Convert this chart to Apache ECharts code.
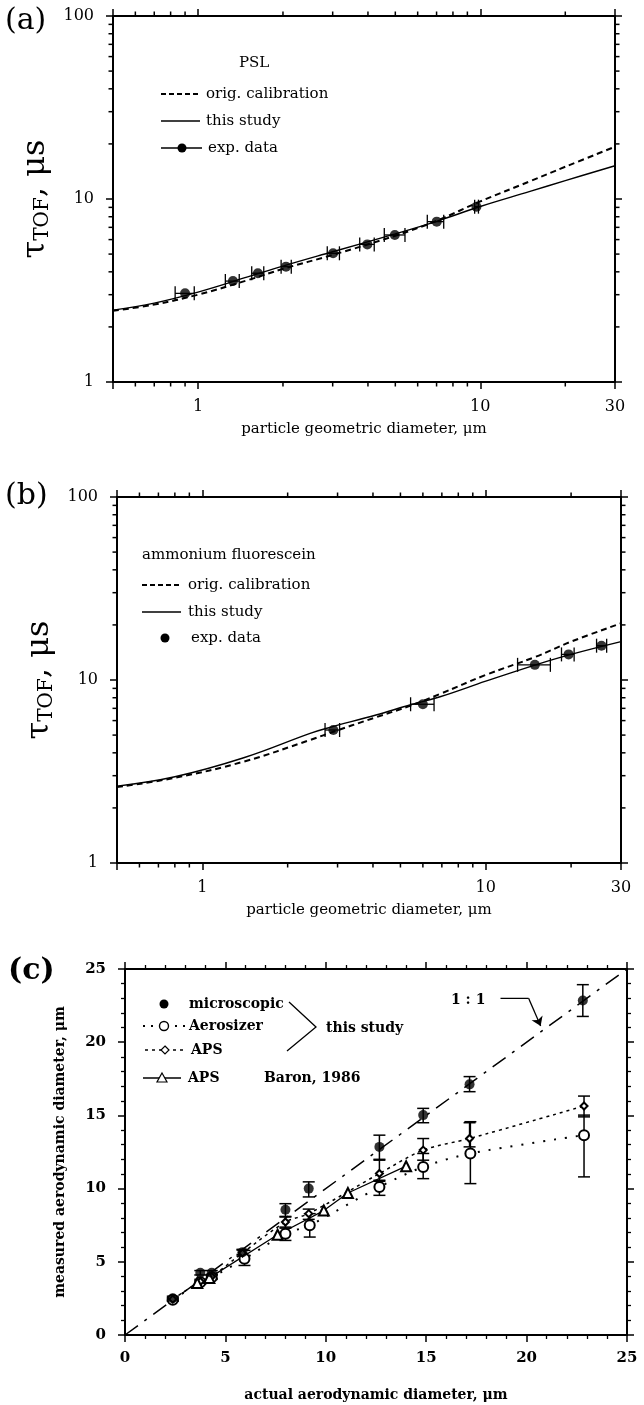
<!DOCTYPE html>
<html>
<head>
<meta charset="utf-8">
<script src="https://cdn.jsdelivr.net/npm/echarts@6/dist/echarts.min.js"></script>
<style>
html, body { margin: 0; padding: 0; background: #fff; }
#chart { width: 644px; height: 1405px; }
</style>
</head>
<body>
<div id="chart"></div>
<script>
// (a) PSL
const pslX = [0.9, 1.33, 1.63, 2.05, 3.01, 3.98, 4.98, 7.01, 9.69];
const pslY = [3.05, 3.56, 3.93, 4.27, 5.05, 5.65, 6.36, 7.52, 9.08];
const pslXLow = [0.83, 1.25, 1.55, 1.97, 2.87, 3.74, 4.57, 6.49, 9.55];
const pslXHigh = [0.97, 1.40, 1.71, 2.14, 3.17, 4.21, 5.41, 7.42, 9.85];
const curveXA = [0.5, 0.7, 1, 1.5, 2, 3, 5, 7, 10, 15, 20, 30];
const origA = [2.45, 2.65, 3.0, 3.6, 4.15, 4.95, 6.3, 7.6, 9.7, 12.5, 15.0, 19.3];
const studyA = [2.47, 2.7, 3.1, 3.75, 4.3, 5.15, 6.45, 7.55, 9.1, 11.0, 12.6, 15.2];

// (b) ammonium fluorescein
const afX = [2.9, 6.0, 14.9, 19.6, 25.6];
const afY = [5.33, 7.37, 12.1, 13.8, 15.4];
const afXLow = [2.71, 5.43, 12.95, 18.5, 24.6];
const afXHigh = [3.05, 6.57, 16.9, 20.5, 26.7];
const curveXB = [0.5, 0.8, 1.4, 2.4, 2.75, 4.1, 5.4, 6.9, 10, 15, 20, 30];
const origB = [2.6, 2.92, 3.58, 4.7, 5.07, 6.26, 7.22, 8.39, 10.66, 13.4, 16.2, 20.4];
const studyB = [2.63, 2.96, 3.76, 5.11, 5.45, 6.44, 7.3, 8.1, 9.85, 12.1, 13.8, 16.2];

// (c) aerodynamic diameter
const micX = [2.38, 3.75, 4.32, 5.85, 7.99, 9.15, 12.67, 14.85, 17.16, 22.8];
const micY = [2.51, 4.25, 4.25, 5.66, 8.56, 10.0, 12.85, 15.02, 17.12, 22.85];
const micLow = [2.4, 4.1, 4.1, 5.5, 8.06, 9.43, 11.94, 14.5, 16.62, 21.76];
const micHigh = [2.65, 4.4, 4.4, 5.85, 8.97, 10.46, 13.65, 15.48, 17.65, 23.93];
const aeroX = [2.38, 3.75, 4.32, 5.95, 7.99, 9.2, 12.67, 14.85, 17.2, 22.86];
const aeroY = [2.4, 3.6, 3.95, 5.2, 6.92, 7.49, 10.11, 11.48, 12.4, 13.65];
const aeroLow = [2.3, 3.5, 3.8, 4.75, 6.46, 6.69, 9.54, 10.68, 10.34, 10.8];
const aeroHigh = [2.5, 3.7, 4.1, 5.78, 7.37, 8.29, 10.57, 12.4, 14.57, 15.02];
const apsX = [2.38, 3.75, 4.32, 5.85, 7.99, 9.15, 12.67, 14.85, 17.16, 22.86];
const apsY = [2.45, 3.65, 4.0, 5.6, 7.72, 8.29, 11.03, 12.63, 13.42, 15.64];
const apsLow = [2.35, 3.5, 3.85, 5.4, 7.3, 7.9, 10.5, 11.94, 12.85, 14.9];
const apsHigh = [2.55, 3.8, 4.15, 5.8, 8.1, 8.6, 12.0, 13.42, 14.5, 16.32];
const baronX = [3.6, 4.2, 7.6, 9.9, 11.1, 14.0];
const baronY = [3.55, 3.9, 6.85, 8.5, 9.7, 11.53];
const oneX = [0, 25];
const oneY = [0, 25];
const arrowX = [18.7, 20.1, 20.7];
const arrowY = [23.0, 23.0, 21.1];

const logMinorX = [0.6, 0.7, 0.8, 0.9, 2, 3, 4, 5, 6, 7, 8, 9, 20];
const logMinorY = [2, 3, 4, 5, 6, 7, 8, 9, 20, 30, 40, 50, 60, 70, 80, 90];
const xLogLabels = [1, 10, 30];
const yLogLabels = [1, 10, 100];

const serif = 'DejaVu Serif';
const zip = (xs, ys) => xs.map((x, i) => [x, ys[i]]);

const baseAxis = (extra) => Object.assign({
  axisLine: { show: true, onZero: false, lineStyle: { color: '#000', width: 2 } },
  axisTick: { show: true, inside: false, length: 7, lineStyle: { color: '#000', width: 1.5 } },
  splitLine: { show: false },
}, extra);

const pick = (list) => (v) => {
  const r = Math.round(v * 100) / 100;
  return list.includes(r) ? String(r) : '';
};

const logX = (g, pos, name) => baseAxis({
  type: 'log', gridIndex: g, position: pos, min: 0.5, max: 30,
  axisLabel: pos === 'bottom'
    ? { margin: 17, fontFamily: serif, fontSize: 16, color: '#000', formatter: pick(xLogLabels) }
    : { show: false },
  name: pos === 'bottom' ? name : '',
  nameLocation: 'middle',
  nameGap: 40,
  nameTextStyle: { fontFamily: serif, fontSize: 15, color: '#000' },
});

const logY = (g, pos) => baseAxis({
  type: 'log', gridIndex: g, position: pos, min: 1, max: 100,
  axisLabel: pos === 'left'
    ? { margin: 19, fontFamily: serif, fontSize: 16, color: '#000', formatter: pick(yLogLabels) }
    : { show: false },
  name: pos === 'left' ? '{t|τ}{s|TOF}{t|, μs}' : '',
  nameLocation: 'middle',
  nameRotate: 90,
  nameGap: 50,
  nameTextStyle: {
    color: '#000',
    rich: {
      t: { fontFamily: serif, fontSize: 32, color: '#000' },
      s: { fontFamily: serif, fontSize: 20, color: '#000', padding: [14, 0, 0, 0] },
    },
  },
});

const linX = (g, pos) => baseAxis({
  type: 'value', gridIndex: g, position: pos, min: 0, max: 25, interval: 5,
  minorTick: { show: true, splitNumber: 5, length: 4, lineStyle: { color: '#000', width: 1.3 } },
  axisLabel: pos === 'bottom'
    ? { margin: 16, fontFamily: serif, fontWeight: 'bold', fontSize: 15, color: '#000' }
    : { show: false },
  name: pos === 'bottom' ? 'actual aerodynamic diameter, μm' : '',
  nameLocation: 'middle',
  nameGap: 53,
  nameTextStyle: { fontFamily: serif, fontWeight: 'bold', fontSize: 14, color: '#000' },
});

const linY = (g, pos) => baseAxis({
  type: 'value', gridIndex: g, position: pos, min: 0, max: 25, interval: 5,
  minorTick: { show: true, splitNumber: 5, length: 4, lineStyle: { color: '#000', width: 1.3 } },
  axisLabel: pos === 'left'
    ? { margin: 19, fontFamily: serif, fontWeight: 'bold', fontSize: 15, color: '#000' }
    : { show: false },
  name: pos === 'left' ? 'measured aerodynamic diameter, μm' : '',
  nameLocation: 'middle',
  nameRotate: 90,
  nameGap: 58,
  nameTextStyle: { fontFamily: serif, fontWeight: 'bold', fontSize: 14, color: '#000' },
});

// minor log ticks on all four sides
const minorTicks = (g) => ({
  type: 'custom', xAxisIndex: 2 * g, yAxisIndex: 2 * g, silent: true, clip: false, z: 10,
  encode: { x: 0, y: 1 },
  data: logMinorX.map((v) => [v, 10, 0]).concat(logMinorY.map((v) => [1, v, 1])),
  renderItem(params, api) {
    const cs = params.coordSys;
    const p = api.coord([api.value(0), api.value(1)]);
    const st = { stroke: '#000', lineWidth: 1.5 };
    const L = 4.5;
    if (api.value(2) === 0) {
      const b = cs.y + cs.height;
      return { type: 'group', children: [
        { type: 'line', shape: { x1: p[0], y1: b, x2: p[0], y2: b + L }, style: st },
        { type: 'line', shape: { x1: p[0], y1: cs.y, x2: p[0], y2: cs.y - L }, style: st },
      ] };
    }
    const r = cs.x + cs.width;
    return { type: 'group', children: [
      { type: 'line', shape: { x1: cs.x, y1: p[1], x2: cs.x - L, y2: p[1] }, style: st },
      { type: 'line', shape: { x1: r, y1: p[1], x2: r + L, y2: p[1] }, style: st },
    ] };
  },
});

const xErrBars = (g, xs, ys, lo, hi) => ({
  type: 'custom', xAxisIndex: 2 * g, yAxisIndex: 2 * g, silent: true, z: 6,
  encode: { x: [0, 2, 3], y: 1 },
  data: xs.map((x, i) => [x, ys[i], lo[i], hi[i]]),
  renderItem(params, api) {
    const a = api.coord([api.value(2), api.value(1)]);
    const b = api.coord([api.value(3), api.value(1)]);
    const h = 7;
    const st = { stroke: '#000', lineWidth: 1.3 };
    return { type: 'group', children: [
      { type: 'line', shape: { x1: a[0], y1: a[1], x2: b[0], y2: b[1] }, style: st },
      { type: 'line', shape: { x1: a[0], y1: a[1] - h, x2: a[0], y2: a[1] + h }, style: st },
      { type: 'line', shape: { x1: b[0], y1: b[1] - h, x2: b[0], y2: b[1] + h }, style: st },
    ] };
  },
});

const yErrBars = (g, xs, lo, hi) => ({
  type: 'custom', xAxisIndex: 2 * g, yAxisIndex: 2 * g, silent: true, z: 6,
  encode: { x: 0, y: [1, 2] },
  data: xs.map((x, i) => [x, lo[i], hi[i]]),
  renderItem(params, api) {
    const a = api.coord([api.value(0), api.value(1)]);
    const b = api.coord([api.value(0), api.value(2)]);
    const w = 6;
    const st = { stroke: '#000', lineWidth: 1.5 };
    return { type: 'group', children: [
      { type: 'line', shape: { x1: a[0], y1: a[1], x2: b[0], y2: b[1] }, style: st },
      { type: 'line', shape: { x1: a[0] - w, y1: a[1], x2: a[0] + w, y2: a[1] }, style: st },
      { type: 'line', shape: { x1: b[0] - w, y1: b[1], x2: b[0] + w, y2: b[1] }, style: st },
    ] };
  },
});

const curve = (g, xs, ys, dashed) => ({
  type: 'line', xAxisIndex: 2 * g, yAxisIndex: 2 * g, data: zip(xs, ys),
  showSymbol: false, smooth: 0.4, silent: true, z: 3,
  lineStyle: { color: '#000', width: dashed ? 2 : 1.4, type: dashed ? [6, 4] : 'solid' },
});

const dots = (g, xs, ys) => ({
  type: 'scatter', xAxisIndex: 2 * g, yAxisIndex: 2 * g, data: zip(xs, ys),
  symbol: 'circle', symbolSize: 10, itemStyle: { color: '#000' }, z: 8,
});

const txt = (x, y, text, font) => ({
  type: 'text', x, y, z: 20,
  style: { text, font, fill: '#000', textAlign: 'left', textVerticalAlign: 'middle' },
});
const seg = (x1, y1, x2, y2, dash, w) => ({
  type: 'line', z: 20,
  shape: { x1, y1, x2, y2 },
  style: { stroke: '#000', lineWidth: w || 1.5, lineDash: dash || null },
});

const fA = '15px "DejaVu Serif"';
const fC = 'bold 14px "DejaVu Serif"';

const chart = echarts.init(document.getElementById('chart'));
chart.setOption({
  animation: false,
  backgroundColor: '#fff',
  grid: [
    { left: 113, top: 16, width: 502, height: 366 },
    { left: 117, top: 497, width: 504, height: 366 },
    { left: 125, top: 969, width: 502, height: 366 },
  ],
  xAxis: [
    logX(0, 'bottom', 'particle geometric diameter, μm'), logX(0, 'top'),
    logX(1, 'bottom', 'particle geometric diameter, μm'), logX(1, 'top'),
    linX(2, 'bottom'), linX(2, 'top'),
  ],
  yAxis: [
    logY(0, 'left'), logY(0, 'right'),
    logY(1, 'left'), logY(1, 'right'),
    linY(2, 'left'), linY(2, 'right'),
  ],
  series: [
    minorTicks(0),
    minorTicks(1),
    curve(0, curveXA, origA, true),
    curve(0, curveXA, studyA, false),
    xErrBars(0, pslX, pslY, pslXLow, pslXHigh),
    dots(0, pslX, pslY),
    curve(1, curveXB, origB, true),
    curve(1, curveXB, studyB, false),
    xErrBars(1, afX, afY, afXLow, afXHigh),
    dots(1, afX, afY),
    {
      type: 'line', xAxisIndex: 4, yAxisIndex: 4, data: zip(oneX, oneY),
      showSymbol: false, silent: true, z: 2,
      lineStyle: { color: '#000', width: 1.5, type: [16, 8, 3, 8] },
    },
    {
      type: 'line', xAxisIndex: 4, yAxisIndex: 4, data: zip(aeroX, aeroY),
      symbol: 'emptyCircle', symbolSize: 10, smooth: 0.3, z: 7,
      itemStyle: { color: '#000', borderWidth: 1.4 },
      lineStyle: { color: '#000', width: 2, type: [2, 9] },
    },
    {
      type: 'line', xAxisIndex: 4, yAxisIndex: 4, data: zip(apsX, apsY),
      symbol: 'emptyDiamond', symbolSize: 7, smooth: 0.3, z: 7,
      itemStyle: { color: '#000', borderWidth: 1.2 },
      lineStyle: { color: '#000', width: 1.5, type: [3, 4] },
    },
    {
      type: 'line', xAxisIndex: 4, yAxisIndex: 4, data: zip(baronX, baronY),
      symbol: 'emptyTriangle', symbolSize: 10, z: 7,
      itemStyle: { color: '#000', borderWidth: 1.2 },
      lineStyle: { color: '#000', width: 1.3 },
    },
    yErrBars(2, aeroX, aeroLow, aeroHigh),
    yErrBars(2, apsX, apsLow, apsHigh),
    yErrBars(2, micX, micLow, micHigh),
    dots(2, micX, micY),
    {
      type: 'line', xAxisIndex: 4, yAxisIndex: 4, data: zip(arrowX.slice(0, 2), arrowY.slice(0, 2)),
      showSymbol: false, silent: true, lineStyle: { color: '#000', width: 1.3 },
    },
    {
      type: 'lines', coordinateSystem: 'cartesian2d', xAxisIndex: 4, yAxisIndex: 4, silent: true,
      symbol: ['none', 'arrow'], symbolSize: 9,
      lineStyle: { color: '#000', width: 1.3, opacity: 1 },
      data: [{ coords: zip(arrowX.slice(1), arrowY.slice(1)) }],
    },
  ],
  graphic: [
    txt(5, 21, '(a)', '30px "DejaVu Serif"'),
    txt(239, 63, 'PSL', fA),
    seg(161, 94, 200, 94, [5, 3], 2),
    txt(206, 94, 'orig. calibration', fA),
    seg(161, 121, 200, 121),
    txt(206, 121, 'this study', fA),
    seg(161, 148, 202, 148),
    { type: 'circle', z: 20, shape: { cx: 182, cy: 148, r: 4.5 }, style: { fill: '#000' } },
    txt(208, 148, 'exp. data', fA),

    txt(5, 496, '(b)', '30px "DejaVu Serif"'),
    txt(142, 555, 'ammonium fluorescein', fA),
    seg(142, 585, 181, 585, [5, 3], 2),
    txt(188, 585, 'orig. calibration', fA),
    seg(142, 612, 181, 612),
    txt(188, 612, 'this study', fA),
    { type: 'circle', z: 20, shape: { cx: 165, cy: 638, r: 4.5 }, style: { fill: '#000' } },
    txt(191, 638, 'exp. data', fA),

    txt(8, 971, '(c)', 'bold 30px "DejaVu Serif"'),
    { type: 'circle', z: 20, shape: { cx: 164, cy: 1004, r: 4.5 }, style: { fill: '#000' } },
    txt(189, 1004, 'microscopic', fC),
    seg(143, 1026, 186, 1026, [2, 6], 2),
    { type: 'circle', z: 21, shape: { cx: 164, cy: 1026, r: 4.5 }, style: { fill: '#fff', stroke: '#000', lineWidth: 1.4 } },
    txt(189, 1026, 'Aerosizer', fC),
    seg(145, 1050, 186, 1050, [3, 4]),
    { type: 'polygon', z: 21, shape: { points: [[165, 1046], [169, 1050], [165, 1054], [161, 1050]] }, style: { fill: '#fff', stroke: '#000', lineWidth: 1.2 } },
    txt(191, 1050, 'APS', fC),
    seg(143, 1078, 181, 1078),
    { type: 'polygon', z: 21, shape: { points: [[162, 1073], [167, 1082], [157, 1082]] }, style: { fill: '#fff', stroke: '#000', lineWidth: 1.2 } },
    txt(188, 1078, 'APS', fC),
    txt(264, 1078, 'Baron, 1986', fC),
    { type: 'polyline', z: 20, shape: { points: [[289, 1002], [316, 1027], [287, 1051]] }, style: { stroke: '#000', lineWidth: 1.3, fill: null } },
    txt(326, 1028, 'this study', fC),
    txt(451, 1000, '1 : 1', fC),
  ],
});
</script>
</body>
</html>
